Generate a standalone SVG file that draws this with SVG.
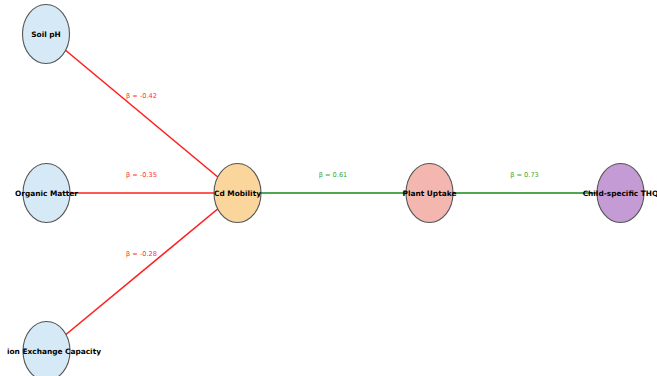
<svg xmlns="http://www.w3.org/2000/svg" width="657" height="376" viewBox="0 0 657 376">
  <style>
    .edge { fill: none; stroke-width: 1.6; }
    .neg { stroke: #ff2020; }
    .pos { stroke: #158a15; }
    .node { stroke: #555; stroke-width: 1.1; }
    .name { font-family: "DejaVu Sans", sans-serif; font-weight: bold; font-size: 7.4px; fill: #000; text-anchor: middle; }
    .beta { font-family: "DejaVu Sans", sans-serif; font-size: 6.6px; text-anchor: middle; }
    .bneg { fill: #ff3030; }
    .bpos { fill: #3aa63a; }
  </style>
  <rect width="657" height="376" fill="#fff"/>

  <!-- path links -->
  <g id="connectors">
    <line class="edge neg" x1="46" y1="34" x2="237" y2="193"/>
    <line class="edge neg" x1="46" y1="193" x2="237" y2="193"/>
    <line class="edge neg" x1="46" y1="351" x2="237" y2="193"/>
    <line class="edge pos" x1="237" y1="193" x2="429.5" y2="193"/>
    <line class="edge pos" x1="429.5" y1="193" x2="620.5" y2="193"/>
    <text class="beta bneg" x="141.5" y="97.5">β = -0.42</text>
    <text class="beta bneg" x="141.5" y="176.5">β = -0.35</text>
    <text class="beta bneg" x="141.5" y="255.5">β = -0.28</text>
    <text class="beta bpos" x="333" y="176.5">β = 0.61</text>
    <text class="beta bpos" x="524.5" y="176.5">β = 0.73</text>
  </g>

  <g id="soil-ph">
    <ellipse class="node" cx="46" cy="34" rx="23.5" ry="29.5" fill="#d6e9f7"/>
    <text class="name" x="46" y="36.6">Soil pH</text>
  </g>
  <g id="organic-matter">
    <ellipse class="node" cx="46.5" cy="193" rx="23.5" ry="29.5" fill="#d6e9f7"/>
    <text class="name" x="46.5" y="195.6">Organic Matter</text>
  </g>
  <g id="ion-exchange">
    <ellipse class="node" cx="46.5" cy="351" rx="23.5" ry="29.5" fill="#d6e9f7"/>
    <text class="name" x="7" y="353.6" style="text-anchor:start">ion Exchange Capacity</text>
  </g>
  <g id="cd-mobility">
    <ellipse class="node" cx="237.5" cy="193" rx="23.5" ry="29.5" fill="#fad69d"/>
    <text class="name" x="237.5" y="195.6">Cd Mobility</text>
  </g>
  <g id="plant-uptake">
    <ellipse class="node" cx="429.5" cy="193" rx="23.5" ry="29.5" fill="#f4b7b0"/>
    <text class="name" x="429.5" y="195.6">Plant Uptake</text>
  </g>
  <g id="child-thq">
    <ellipse class="node" cx="620.5" cy="193" rx="23.5" ry="29.5" fill="#c49bd4"/>
    <text class="name" x="620.5" y="195.6">Child-specific THQ</text>
  </g>
</svg>
